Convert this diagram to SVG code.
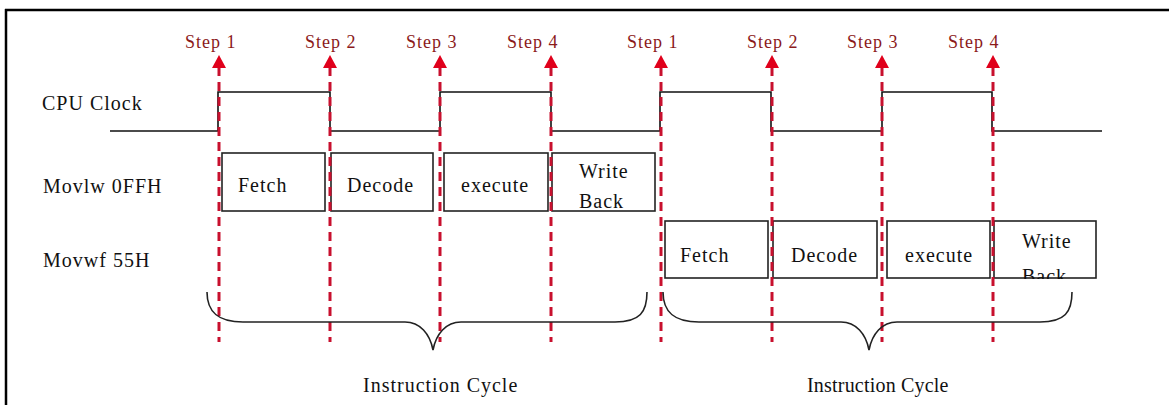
<svg xmlns="http://www.w3.org/2000/svg" width="1169" height="405" viewBox="0 0 1169 405">
<style>
.lbl{font-family:"Liberation Serif","Times New Roman",serif;font-size:20px;letter-spacing:1px;fill:#111}
.step{font-family:"Liberation Serif","Times New Roman",serif;font-size:18px;letter-spacing:1px;fill:#8b1a1a}
.box{fill:#fff;stroke:#222;stroke-width:1.6}
.txt{font-family:"Liberation Serif","Times New Roman",serif;font-size:20px;letter-spacing:1px;fill:#111}
.dash{stroke:#c8102e;stroke-width:3;stroke-dasharray:9 6;fill:none}
.head{fill:#e0001b}
.wave{fill:none;stroke:#111;stroke-width:1.6}
.brace{fill:none;stroke:#222;stroke-width:1.6}
</style>
<defs>
<clipPath id="clipRow2"><rect x="990" y="221" width="110" height="58"/></clipPath>
</defs>
<rect x="0" y="0" width="1169" height="405" fill="#fff"/>
<g id="frame">
<line x1="5" y1="10" x2="1169" y2="10" stroke="#000" stroke-width="2.5"/>
<line x1="6" y1="9" x2="6" y2="405" stroke="#000" stroke-width="2.5"/>
</g>
<g id="labels">
<text class="lbl" x="42" y="110">CPU Clock</text>
<text class="lbl" x="43" y="193">Movlw 0FFH</text>
<text class="lbl" x="43" y="267">Movwf 55H</text>
</g>
<g id="clock">
<path class="wave" d="M110,131 H218 V92 H330 V131 H440 V92 H551 V131 H660 V92 H771 V131 H882 V92 H992 V131 H1102"/>
</g>
<g id="row1">
<g id="fetch1"><rect class="box" x="222" y="153" width="103" height="58"/><text class="txt" x="238" y="192">Fetch</text></g>
<g id="decode1"><rect class="box" x="331" y="153" width="102" height="58"/><text class="txt" x="347" y="192">Decode</text></g>
<g id="execute1"><rect class="box" x="444" y="153" width="104" height="58"/><text class="txt" x="461" y="192">execute</text></g>
<g id="writeback1"><rect class="box" x="552" y="153" width="103" height="58"/><text class="txt" x="579" y="178">Write</text><text class="txt" x="579" y="208">Back</text></g>
</g>
<g id="row2">
<g id="fetch2"><rect class="box" x="665" y="221" width="103" height="57"/><text class="txt" x="680" y="262">Fetch</text></g>
<g id="decode2"><rect class="box" x="773" y="221" width="104" height="57"/><text class="txt" x="791" y="262">Decode</text></g>
<g id="execute2"><rect class="box" x="887" y="221" width="103" height="57"/><text class="txt" x="905" y="262">execute</text></g>
<g id="writeback2"><rect class="box" x="994" y="221" width="102" height="57"/><text class="txt" x="1022" y="248">Write</text><text class="txt" x="1022" y="283" clip-path="url(#clipRow2)">Back</text></g>
</g>
<g id="steps">
<text class="step" x="185" y="48">Step 1</text>
<text class="step" x="305" y="48">Step 2</text>
<text class="step" x="406" y="48">Step 3</text>
<text class="step" x="507" y="48">Step 4</text>
<text class="step" x="627" y="48">Step 1</text>
<text class="step" x="747" y="48">Step 2</text>
<text class="step" x="847" y="48">Step 3</text>
<text class="step" x="948" y="48">Step 4</text>
</g>
<g id="connectors">
<line class="dash" x1="219" y1="67" x2="219" y2="342"/><polygon class="head" points="219,55 212,68 226,68"/>
<line class="dash" x1="330" y1="67" x2="330" y2="342"/><polygon class="head" points="330,55 323,68 337,68"/>
<line class="dash" x1="440" y1="67" x2="440" y2="342"/><polygon class="head" points="440,55 433,68 447,68"/>
<line class="dash" x1="551" y1="67" x2="551" y2="342"/><polygon class="head" points="551,55 544,68 558,68"/>
<line class="dash" x1="661" y1="67" x2="661" y2="342"/><polygon class="head" points="661,55 654,68 668,68"/>
<line class="dash" x1="772" y1="67" x2="772" y2="342"/><polygon class="head" points="772,55 765,68 779,68"/>
<line class="dash" x1="882" y1="67" x2="882" y2="342"/><polygon class="head" points="882,55 875,68 889,68"/>
<line class="dash" x1="993" y1="67" x2="993" y2="342"/><polygon class="head" points="993,55 986,68 1000,68"/>
</g>
<g id="cycle1">
<path class="brace" d="M207,292 C207,312 218,322 243,322 H405 C420,322 430,334 433,350 C436,334 446,322 461,322 H615 C640,322 647,312 647,292"/>
<text class="lbl" x="363" y="392">Instruction Cycle</text>
</g>
<g id="cycle2">
<path class="brace" d="M663,292 C663,312 674,322 699,322 H841 C856,322 866,334 869,350 C872,334 882,322 897,322 H1040 C1065,322 1072,312 1072,292"/>
<text class="lbl" x="807" y="392" style="letter-spacing:0.2px">Instruction Cycle</text>
</g>
</svg>
